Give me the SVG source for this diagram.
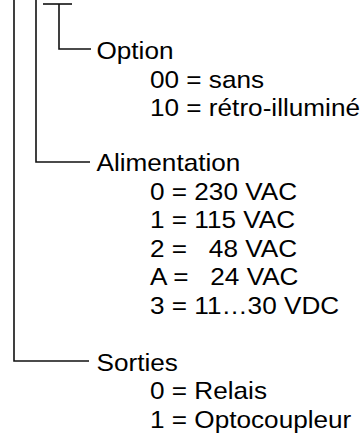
<svg xmlns="http://www.w3.org/2000/svg" width="363" height="433" viewBox="0 0 363 433">
<style>
.ln{fill:none;stroke:#111;stroke-width:1.6}
text{font-family:"Liberation Sans",Arial,sans-serif;font-size:24px;fill:#000;white-space:pre}
</style>
<rect width="363" height="433" fill="#fff"/>
<g id="connectors">
<line class="ln" x1="43" y1="4" x2="72" y2="4"/>
<polyline class="ln" points="59,4 59,49 91,49"/>
<polyline class="ln" points="36,0 36,162 90,162"/>
<polyline class="ln" points="14,0 14,361 89,361"/>
</g>
<g transform="scale(1.09 1)">
<g id="option">
<text x="88.5" y="59">Option</text>
<text x="137.6" y="87.6">00 = sans</text>
<text x="137.6" y="116.2">10 = rétro-illuminé</text>
</g>
<g id="alimentation">
<text x="88.5" y="171.5">Alimentation</text>
<text x="137.6" y="200">0 = 230 VAC</text>
<text x="137.6" y="228.5">1 = 115 VAC</text>
<text x="137.6" y="257" xml:space="preserve">2 =   48 VAC</text>
<text x="137.6" y="285.5" xml:space="preserve">A =   24 VAC</text>
<text x="137.6" y="314">3 = 11…30 VDC</text>
</g>
<g id="sorties">
<text x="88.5" y="371">Sorties</text>
<text x="137.6" y="399.5">0 = Relais</text>
<text x="137.6" y="428">1 = Optocoupleur</text>
</g>
</g>
</svg>
